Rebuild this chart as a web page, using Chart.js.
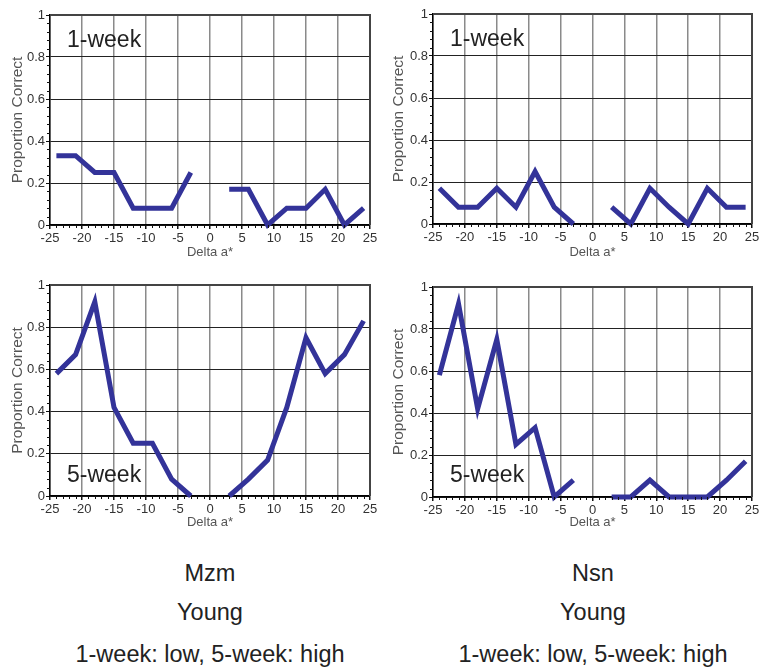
<!DOCTYPE html>
<html>
<head>
<meta charset="utf-8">
<script src="https://cdn.jsdelivr.net/npm/chart.js@4.4.1/dist/chart.umd.min.js"></script>
<style>
  html, body { margin:0; padding:0; background:#fff; }
  body { width:762px; height:667px; position:relative; overflow:hidden; font-family:"Liberation Sans", Arial, sans-serif; }
  canvas { position:absolute; }
  .cap { position:absolute; width:380px; text-align:center; font-size:23.5px; line-height:23.5px; color:#222; white-space:nowrap; }
</style>
</head>
<body>
<canvas id="c1" width="380" height="270" style="left:0;top:0"></canvas>
<canvas id="c2" width="382" height="270" style="left:380px;top:0"></canvas>
<canvas id="c3" width="380" height="270" style="left:0;top:270px"></canvas>
<canvas id="c4" width="382" height="270" style="left:380px;top:270px"></canvas>

<div class="cap" style="left:20px;top:562px">Mzm</div>
<div class="cap" style="left:20px;top:601px">Young</div>
<div class="cap" style="left:20px;top:643px">1-week: low, 5-week: high</div>
<div class="cap" style="left:403px;top:562px">Nsn</div>
<div class="cap" style="left:403px;top:601px">Young</div>
<div class="cap" style="left:403px;top:643px">1-week: low, 5-week: high</div>

<script>
// ---- data ----
const deltaA = [-24, -21, -18, -15, -12, -9, -6, -3, 0, 3, 6, 9, 12, 15, 18, 21, 24];
const mzmWeek1 = [0.33, 0.33, 0.25, 0.25, 0.08, 0.08, 0.08, 0.25, null, 0.17, 0.17, 0, 0.08, 0.08, 0.17, 0, 0.08];
const nsnWeek1 = [0.17, 0.08, 0.08, 0.17, 0.08, 0.25, 0.08, 0, null, 0.08, 0, 0.17, 0.08, 0, 0.17, 0.08, 0.08];
const mzmWeek5 = [0.58, 0.67, 0.92, 0.42, 0.25, 0.25, 0.08, 0, null, 0, 0.08, 0.17, 0.42, 0.75, 0.58, 0.67, 0.83];
const nsnWeek5 = [0.58, 0.92, 0.42, 0.75, 0.25, 0.33, 0, 0.08, null, 0, 0, 0.08, 0, 0, 0, 0.08, 0.17];
const xTickStep = 5, xMin = -25, xMax = 25;
const yTickStep = 0.2, yMin = 0, yMax = 1;
const xTitle = "Delta a*";
const yTitle = "Proportion Correct";

const FONT = "'Liberation Sans', Arial, sans-serif";

const minorTicks = {
  id: 'minorTicks',
  afterDraw(chart) {
    const {ctx, scales: {x, y}} = chart;
    ctx.save();
    ctx.strokeStyle = '#111';
    ctx.lineWidth = 1;
    ctx.beginPath();
    for (let v = xMin; v <= xMax; v++) {
      if (v % 5 === 0) continue;
      const px = Math.round(x.getPixelForValue(v)) + 0.5;
      ctx.moveTo(px, y.bottom);
      ctx.lineTo(px, y.bottom + 3);
    }
    for (let i = 0; i <= 25; i++) {
      if (i % 5 === 0) continue;
      const py = Math.round(y.getPixelForValue(i * 0.04)) + 0.5;
      ctx.moveTo(x.left - 3, py);
      ctx.lineTo(x.left, py);
    }
    ctx.stroke();
    ctx.restore();
  }
};

const frame = {
  id: 'frame',
  beforeDatasetsDraw(chart) {
    const {ctx, chartArea: a} = chart;
    ctx.save();
    ctx.strokeStyle = '#444';
    ctx.lineWidth = 2;
    ctx.beginPath();
    ctx.moveTo(a.left, a.top);
    ctx.lineTo(a.right, a.top);
    ctx.lineTo(a.right, a.bottom);
    ctx.stroke();
    ctx.restore();
  }
};

const panelLabel = {
  id: 'panelLabel',
  afterDatasetsDraw(chart, args, opts) {
    const {ctx, chartArea: a} = chart;
    ctx.save();
    ctx.font = "23px " + FONT;
    ctx.fillStyle = '#222';
    ctx.textBaseline = 'alphabetic';
    ctx.textAlign = 'left';
    const yPos = opts.pos === 'top' ? a.top + 32 : a.bottom - opts.offset;
    ctx.fillText(opts.text, a.left + 17, yPos);
    ctx.restore();
  }
};

function makeChart(id, values, label, pos, layout) {
  new Chart(document.getElementById(id), {
    type: 'line',
    data: {
      datasets: [{
        data: deltaA.map((x, i) => ({x: x, y: values[i]})),
        borderColor: '#333399',
        borderWidth: 5,
        pointRadius: 0,
        tension: 0,
        spanGaps: false,
        clip: false,
        borderJoinStyle: 'miter',
        borderCapStyle: 'butt'
      }]
    },
    options: {
      responsive: false,
      animation: false,
      devicePixelRatio: 1,
      layout: { padding: { left: 0, right: layout.right, top: layout.top, bottom: 0 } },
      plugins: {
        legend: { display: false },
        tooltip: { enabled: false },
        panelLabel: { text: label, pos: pos, offset: layout.labelOffset || 14 }
      },
      scales: {
        x: {
          type: 'linear',
          min: xMin, max: xMax,
          afterFit: s => { s.height = layout.xh; },
          ticks: { stepSize: xTickStep, maxTicksLimit: 11, color: '#333', font: { family: FONT, size: 13 }, padding: 2, maxRotation: 0, autoSkip: false },
          grid: { color: '#8a8a8a', lineWidth: 1.5, tickLength: 4, tickColor: '#111' },
          border: { color: '#000', width: 1.5 },
          title: { display: true, text: xTitle, color: '#555', font: { family: FONT, size: 13 }, padding: { top: 0, bottom: 10 } }
        },
        y: {
          min: yMin, max: yMax,
          afterFit: s => { s.width = layout.yw; },
          ticks: { stepSize: yTickStep, maxTicksLimit: 6, autoSkip: false, color: '#333', font: { family: FONT, size: 13 }, padding: 1,
                   callback: v => String(+Number(v).toFixed(2)) },
          grid: { color: '#222', lineWidth: 1, tickLength: 4, tickColor: '#111' },
          border: { color: '#000', width: 1.5 },
          title: { display: true, text: yTitle, color: '#555', font: { family: FONT, size: 15.5 }, padding: { top: layout.ytp, bottom: 0 } }
        }
      }
    },
    plugins: [frame, minorTicks, panelLabel]
  });
}

makeChart('c1', mzmWeek1, '1-week', 'top', { right: 10, top: 15, xh: 45, yw: 50, ytp: 8 });
makeChart('c2', nsnWeek1, '1-week', 'top', { right: 10, top: 14, xh: 46, yw: 53, ytp: 9.5 });
makeChart('c3', mzmWeek5, '5-week', 'bottom', { right: 10, top: 15, xh: 44, yw: 50, ytp: 8, labelOffset: 14 });
makeChart('c4', nsnWeek5, '5-week', 'bottom', { right: 10, top: 17, xh: 43, yw: 53, ytp: 9.5, labelOffset: 15 });
</script>
</body>
</html>
